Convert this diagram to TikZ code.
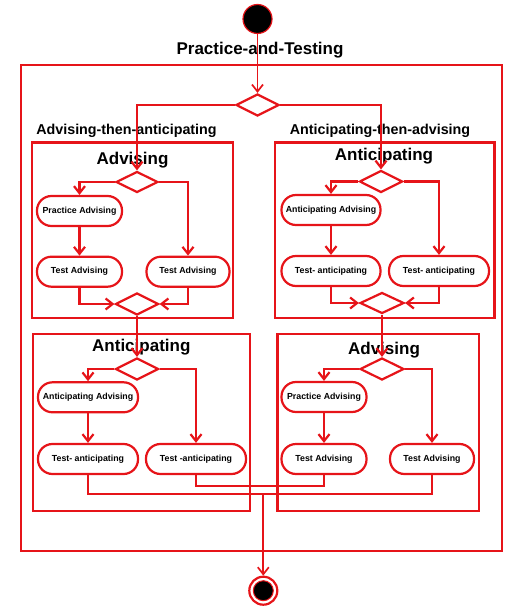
\documentclass[tikz,border=0pt]{standalone}
\usepackage{fontspec}
\setmainfont{Liberation Sans}
\usetikzlibrary{shapes.geometric,arrows.meta}
\definecolor{umlred}{RGB}{230,20,25}
\tikzset{
  box/.style={draw=umlred,line width=2.4pt,rectangle,inner sep=0pt},
  act/.style={draw=umlred,line width=2.2pt,rectangle,rounded corners=14.5pt,inner sep=0pt,minimum height=30pt,font=\fontsize{8.8}{10}\selectfont\bfseries},
  dec/.style={draw=umlred,line width=2.2pt,diamond,aspect=2,inner sep=0pt,minimum width=43pt,minimum height=22pt},
  conn/.style={draw=umlred,line width=2.2pt},
  thinconn/.style={draw=umlred,line width=1.7pt},
  arr/.style={-{Straight Barb[length=7pt,width=11pt]}},
  bigtitle/.style={font=\fontsize{17}{20}\selectfont\bfseries,anchor=base,inner sep=0pt},
  subtitle/.style={font=\fontsize{14.3}{17}\selectfont\bfseries,anchor=base,inner sep=0pt},
}
\begin{document}
\begin{tikzpicture}[x=1pt,y=-1pt]
\useasboundingbox (0,0) rectangle (518,612);
% outer composite
\node[box,minimum width=481pt,minimum height=486pt] (outer) at (261.5,308) {};
\node[bigtitle] (ttl) at (260,55) {Practice-and-Testing};
\node[subtitle] (lt) at (126.5,135) {Advising-then-anticipating};
\node[subtitle] (rt) at (380,135) {Anticipating-then-advising};
% sub boxes
\node[box,minimum width=201pt,minimum height=175.3pt] (B1) at (132.5,230.35) {};
\node[box,minimum width=217pt,minimum height=176.7pt] (B2) at (141.5,422.35) {};
\node[box,minimum width=219.3pt,minimum height=175.3pt] (B3) at (384.65,230.35) {};
\node[box,minimum width=201.7pt,minimum height=176.7pt] (B4) at (378.15,422.35) {};
\node[bigtitle] (t1) at (132.5,165) {Advising};
\node[bigtitle] (t2) at (141.3,351.7) {Anticipating};
\node[bigtitle] (t3) at (384,160.5) {Anticipating};
\node[bigtitle] (t4) at (384,354) {Advising};
% start / end
\node[circle,fill=black,draw=umlred,line width=1.2pt,minimum size=29pt,inner sep=0pt] (start) at (257.5,19) {};
\node[circle,draw=umlred,line width=2.2pt,minimum size=28pt,inner sep=0pt] (end) at (263.3,590.7) {};
\node[circle,fill=black,draw=umlred,line width=1pt,minimum size=20pt,inner sep=0pt] (endin) at (263.3,590.7) {};
% decisions
\node[dec] (d0) at (257.5,105) {};
\node[dec,minimum width=42pt,minimum height=21pt] (d1) at (137,182) {};
\node[dec,minimum width=43pt,minimum height=22pt] (m1) at (137,304) {};
\node[dec,minimum width=43pt,minimum height=22pt] (d2) at (137,369) {};
\node[dec,minimum width=43pt,minimum height=22pt] (d3) at (381,181.5) {};
\node[dec,minimum width=44pt,minimum height=21pt] (m3) at (382,303) {};
\node[dec,minimum width=44pt,minimum height=22pt] (d4) at (382,369) {};
% activities box 1
\node[act,minimum width=85pt] (pa1) at (79.5,211) {Practice Advising};
\node[act,minimum width=85pt] (ta1l) at (79.5,271.7) {Test Advising};
\node[act,minimum width=83pt] (ta1r) at (188,271.7) {Test Advising};
% box 2
\node[act,minimum width=100pt] (aa2) at (88,397.3) {Anticipating Advising};
\node[act,minimum width=100pt] (tn2l) at (88,459) {Test- anticipating};
\node[act,minimum width=100pt] (tn2r) at (196,459) {Test -anticipating};
% box 3
\node[act,minimum width=99pt] (aa3) at (331,210) {Anticipating Advising};
\node[act,minimum width=99pt] (tn3l) at (331,271) {Test- anticipating};
\node[act,minimum width=100pt] (tn3r) at (439,271) {Test- anticipating};
% box 4
\node[act,minimum width=85pt] (pa4) at (324,397) {Practice Advising};
\node[act,minimum width=85pt] (ta4l) at (324,459) {Test Advising};
\node[act,minimum width=84pt] (ta4r) at (432,459) {Test Advising};
% bus coordinates
\coordinate (bus1) at (263.3,494.3);
\coordinate (bus2) at (260,486);
% connectors
\draw[thinconn,arr] (start.south) -- (d0.north);
\draw[conn,arr] (d0.west) -| (d1.north);
\draw[conn,arr] (d0.east) -| (d3.north);
% box 1
\draw[conn,arr] (d1.west) -| (pa1.north);
\draw[conn,arr] (d1.east) -| (ta1r.north);
\draw[conn,arr] (pa1.south) -- (ta1l.north);
\draw[conn,arr] (ta1l.south) |- (m1.west);
\draw[conn,arr] (ta1r.south) |- (m1.east);
\draw[conn,arr] (m1.south) -- (d2.north);
% box 2
\draw[conn,arr] (d2.west) -| (aa2.north);
\draw[conn,arr] (d2.east) -| (tn2r.north);
\draw[conn,arr] (aa2.south) -- (tn2l.north);
% box 3
\draw[conn,arr] (d3.west) -| (aa3.north);
\draw[conn,arr] (d3.east) -| (tn3r.north);
\draw[conn,arr] (aa3.south) -- (tn3l.north);
\draw[conn,arr] (tn3l.south) |- (m3.west);
\draw[conn,arr] (tn3r.south) |- (m3.east);
\draw[conn,arr] (m3.south) -- (d4.north);
% box 4
\draw[conn,arr] (d4.west) -| (pa4.north);
\draw[conn,arr] (d4.east) -| (ta4r.north);
\draw[conn,arr] (pa4.south) -- (ta4l.north);
% joins to final
\draw[thinconn] (tn2l.south) |- (bus1) -| (ta4r.south);
\draw[thinconn] (tn2r.south) |- (bus2) -| (ta4l.south);
\draw[thinconn,arr] (bus1) -- (end.north);
\end{tikzpicture}
\end{document}
